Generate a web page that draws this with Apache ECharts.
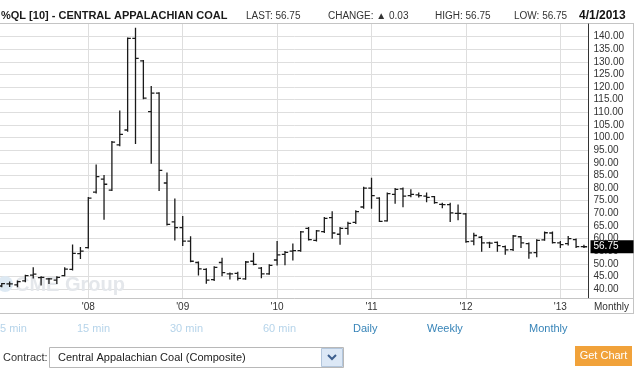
<!DOCTYPE html>
<html>
<head>
<meta charset="utf-8">
<script src="https://cdn.jsdelivr.net/npm/echarts@6/dist/echarts.min.js"></script>
<style>
html,body{margin:0;padding:0;background:#fff;}
#chart{width:640px;height:372px;}
</style>
</head>
<body>
<div id="chart"></div>
<script>
// ---- Data (monthly OHLC, Central Appalachian Coal) ----
const months = [
  '2007-02','2007-03','2007-04','2007-05','2007-06','2007-07','2007-08','2007-09','2007-10','2007-11','2007-12',
  '2008-01','2008-02','2008-03','2008-04','2008-05','2008-06','2008-07','2008-08','2008-09','2008-10','2008-11','2008-12',
  '2009-01','2009-02','2009-03','2009-04','2009-05','2009-06','2009-07','2009-08','2009-09','2009-10','2009-11','2009-12',
  '2010-01','2010-02','2010-03','2010-04','2010-05','2010-06','2010-07','2010-08','2010-09','2010-10','2010-11','2010-12',
  '2011-01','2011-02','2011-03','2011-04','2011-05','2011-06','2011-07','2011-08','2011-09','2011-10','2011-11','2011-12',
  '2012-01','2012-02','2012-03','2012-04','2012-05','2012-06','2012-07','2012-08','2012-09','2012-10','2012-11','2012-12',
  '2013-01','2013-02','2013-03','2013-04'
];
const openVals = [
  41.2,42.0,41.6,43.2,45.5,44.5,44.0,43.5,45.3,47.8,54.0,
  56.4,78.4,83.5,79.2,97.1,103.0,139.3,130.4,110.3,117.6,82.0,66.6,
  64.3,59.0,50.5,47.8,43.7,50.5,46.0,46.2,44.0,51.0,48.3,46.0,
  51.5,53.7,55.0,55.2,64.0,59.3,62.7,68.3,61.7,64.0,66.4,72.5,
  80.0,76.0,67.0,77.5,79.7,77.0,77.3,76.8,76.6,73.5,73.4,70.0,
  69.8,59.0,60.5,58.3,58.5,56.8,55.6,60.7,58.0,54.4,59.5,62.2,
  58.3,58.0,59.6,56.8
];
const highVals = [
  42.2,42.8,43.2,45.5,48.4,44.9,44.2,44.9,48.4,57.4,56.4,
  76.3,89.1,85.0,98.4,110.5,139.5,143.3,130.5,120.2,117.8,86.0,75.7,
  68.7,60.7,50.7,48.0,48.8,52.2,46.3,46.6,50.9,54.2,48.5,49.6,
  58.8,54.9,57.8,62.8,64.4,63.2,68.3,70.6,64.4,66.5,71.0,80.3,
  83.9,76.2,78.0,79.8,80.0,79.3,78.0,78.0,76.7,74.0,74.0,73.3,
  69.9,62.1,60.8,58.5,58.6,57.0,61.2,60.8,58.2,59.5,62.6,62.6,
  58.8,60.8,59.8,57.3
];
const lowVals = [
  40.9,41.0,40.9,42.9,44.4,41.6,42.2,42.2,45.3,47.5,52.1,
  56.2,78.0,67.6,79.0,96.8,102.5,97.7,115.4,89.8,79.0,65.4,59.4,
  57.2,50.8,45.6,42.3,43.4,45.3,44.0,43.6,43.9,49.6,44.5,45.8,
  49.5,49.6,51.5,55.0,59.4,59.0,62.4,60.1,57.7,61.7,66.0,72.0,
  72.0,66.7,66.9,74.0,72.6,76.6,76.5,74.6,74.0,72.2,66.7,67.4,
  58.5,57.5,55.0,56.4,55.0,53.8,55.3,56.4,52.2,52.8,59.3,58.2,
  56.4,57.4,56.4,56.4
];
const closeVals = [
  42.1,42.0,42.9,45.3,45.9,44.6,44.0,44.6,47.9,54.1,55.0,
  76.0,84.5,81.5,98.2,101.3,139.3,131.4,115.6,117.6,87.0,65.6,64.3,
  59.0,51.0,48.0,43.5,48.6,46.5,46.0,44.2,50.7,49.8,46.0,49.4,
  53.5,54.5,55.2,62.6,59.6,63.0,68.0,62.2,64.0,66.0,70.7,80.0,
  77.0,66.8,77.8,79.5,76.8,77.5,77.0,76.3,74.2,73.4,70.2,70.0,
  58.8,61.2,58.3,58.2,57.2,55.5,61.0,58.3,54.3,59.3,62.3,58.4,
  57.6,60.0,56.8,56.75
];
const yTickValues = [40,45,50,55,60,65,70,75,80,85,90,95,100,105,110,115,120,125,130,135,140];
const yearTickMonths = ['2008-01','2009-01','2010-01','2011-01','2012-01','2013-01'];
const yearTickLabels = ["'08","'09","'10","'11","'12","'13"];
const lastValue = 56.75;
const headerTitle = '%QL [10] - CENTRAL APPALACHIAN COAL';
const headerItems = ['LAST: 56.75', 'CHANGE: \u25B2 0.03', 'HIGH: 56.75', 'LOW: 56.75'];
const headerDate = '4/1/2013';
const intervalLinks = ['5 min','15 min','30 min','60 min','Daily','Weekly','Monthly'];

// ---- Build ----
const BASE_YEAR = 2007;
function monthIndex(s) {
  const p = s.split('-');
  return (parseInt(p[0], 10) - BASE_YEAR) * 12 + parseInt(p[1], 10) - 1;
}
const ohlc = months.map((m, i) => [monthIndex(m), openVals[i], highVals[i], lowVals[i], closeVals[i]]);
const closeLine = months.map((m, i) => [monthIndex(m), closeVals[i]]);
const yearTicks = yearTickMonths.map(monthIndex);
const yearLabelMap = {};
yearTicks.forEach((v, i) => { yearLabelMap[v] = yearTickLabels[i]; });

const chart = echarts.init(document.getElementById('chart'));
const FONT = 'Liberation Sans, Arial, sans-serif';
const gridLine = '#dedede';
const frame = '#c4c4c4';

const linkXs = [0, 77, 170, 263, 353, 427, 529];
const linkGraphics = intervalLinks.map((t, i) => ({
  type: 'text', x: linkXs[i], y: 329,
  style: { text: t, font: '11px ' + FONT, fill: i < 4 ? '#b6d4ea' : '#3784b8', textVerticalAlign: 'middle' }
}));
const headerXs = [246, 328, 435, 514];
const headerGraphics = headerItems.map((t, i) => ({
  type: 'text', x: headerXs[i], y: 16,
  style: { text: t, font: '10px ' + FONT, fill: '#333', textVerticalAlign: 'middle' }
}));

chart.setOption({
  animation: false,
  grid: { left: 0, right: 51.5, top: 24, bottom: 73.7, containLabel: false },
  xAxis: {
    type: 'value',
    min: 0.776, max: 75.58,
    axisLine: { show: true, lineStyle: { color: frame, width: 1 } },
    axisTick: { show: false, customValues: yearTicks },
    axisLabel: {
      customValues: yearTicks,
      formatter: v => yearLabelMap[v] || '',
      fontSize: 10, fontFamily: FONT, color: '#333', margin: 4
    },
    splitLine: { show: true, lineStyle: { color: gridLine, width: 1 } }
  },
  yAxis: {
    type: 'value', position: 'right',
    min: 36.32, max: 145,
    axisLine: { show: true, lineStyle: { color: '#333', width: 1 } },
    axisTick: { show: false, customValues: yTickValues },
    axisLabel: {
      customValues: yTickValues,
      formatter: v => v.toFixed(2),
      fontSize: 10, fontFamily: FONT, color: '#333', margin: 5
    },
    splitLine: { show: true, lineStyle: { color: gridLine, width: 1 } }
  },
  series: [{
    type: 'custom',
    clip: true,
    data: ohlc,
    encode: { x: 0, y: [1, 2, 3, 4] },
    z: 3,
    renderItem: function (params, api) {
      const x = api.value(0);
      const o = api.coord([x, api.value(1)]);
      const h = api.coord([x, api.value(2)]);
      const l = api.coord([x, api.value(3)]);
      const c = api.coord([x, api.value(4)]);
      const px = o[0];
      const st = { stroke: '#1a1a1a', lineWidth: 1.3 };
      return {
        type: 'group',
        children: [
          { type: 'line', shape: { x1: px, y1: h[1] - 0.5, x2: px, y2: l[1] + 0.5 }, style: st },
          { type: 'line', shape: { x1: px - 3.2, y1: o[1], x2: px, y2: o[1] }, style: st },
          { type: 'line', shape: { x1: px, y1: c[1], x2: px + 3.2, y2: c[1] }, style: st }
        ]
      };
    }
  }, {
    type: 'line',
    data: closeLine,
    showSymbol: false,
    symbol: 'none',
    silent: true,
    lineStyle: { color: 'rgba(0,0,0,0)', width: 1 },
    z: 4,
    markLine: {
      silent: true,
      symbol: ['none', 'none'],
      lineStyle: { color: 'rgba(0,0,0,0)', width: 1, type: 'solid' },
      data: [{ yAxis: lastValue }],
      label: {
        show: true, position: 'end', distance: 2,
        formatter: () => lastValue.toFixed(2),
        backgroundColor: '#000', color: '#fff',
        fontSize: 10, fontFamily: FONT,
        padding: [2, 15, 1, 3]
      }
    }
  }],
  graphic: [
    // watermark
    { type: 'circle', shape: { cx: 5, cy: 284, r: 8 }, style: { fill: '#dde9f3' }, z: 1, silent: true },
    { type: 'text', x: 15, y: 285, z: 1, silent: true,
      style: { text: 'CME Group', font: 'bold 20px ' + FONT, fill: '#e4e7eb', textVerticalAlign: 'middle' } },
    // frame
    { type: 'line', shape: { x1: 0, y1: 23.5, x2: 634, y2: 23.5 }, style: { stroke: frame, lineWidth: 1 } },
    { type: 'line', shape: { x1: 633.5, y1: 23, x2: 633.5, y2: 314 }, style: { stroke: frame, lineWidth: 1 } },
    { type: 'line', shape: { x1: 588, y1: 298.5, x2: 634, y2: 298.5 }, style: { stroke: frame, lineWidth: 1 } },
    { type: 'line', shape: { x1: 0, y1: 313.5, x2: 634, y2: 313.5 }, style: { stroke: frame, lineWidth: 1 } },
    // header
    { type: 'text', x: 1, y: 15.5,
      style: { text: headerTitle, font: 'bold 11px ' + FONT, fill: '#1a1a1a', textVerticalAlign: 'middle' } },
    ...headerGraphics,
    { type: 'text', x: 579, y: 15.5,
      style: { text: headerDate, font: 'bold 12px ' + FONT, fill: '#111', textVerticalAlign: 'middle' } },
    // x-axis corner label
    { type: 'text', x: 594, y: 307,
      style: { text: 'Monthly', font: '10px ' + FONT, fill: '#333', textVerticalAlign: 'middle' } },
    ...linkGraphics,
    // contract row
    { type: 'text', x: 3, y: 357.5,
      style: { text: 'Contract:', font: '11px ' + FONT, fill: '#333', textVerticalAlign: 'middle' } },
    { type: 'rect', shape: { x: 49.5, y: 347.5, width: 294, height: 20 }, style: { fill: '#fff', stroke: '#b8b8b8', lineWidth: 1 } },
    { type: 'text', x: 58, y: 357.5,
      style: { text: 'Central Appalachian Coal (Composite)', font: '11px ' + FONT, fill: '#222', textVerticalAlign: 'middle' } },
    { type: 'rect', shape: { x: 321.5, y: 348.5, width: 21, height: 18 }, style: { fill: '#dce8f6', stroke: '#b3c6dc', lineWidth: 1 } },
    { type: 'polyline', shape: { points: [[328, 355], [332, 359], [336, 355]] }, style: { stroke: '#3d5f8e', lineWidth: 2, fill: null } },
    { type: 'rect', shape: { x: 575, y: 346, width: 57, height: 20 }, style: { fill: '#f1a23a' } },
    { type: 'text', x: 603.5, y: 356,
      style: { text: 'Get Chart', font: '11px ' + FONT, fill: '#fff', textAlign: 'center', textVerticalAlign: 'middle' } }
  ]
});
</script>
</body>
</html>
